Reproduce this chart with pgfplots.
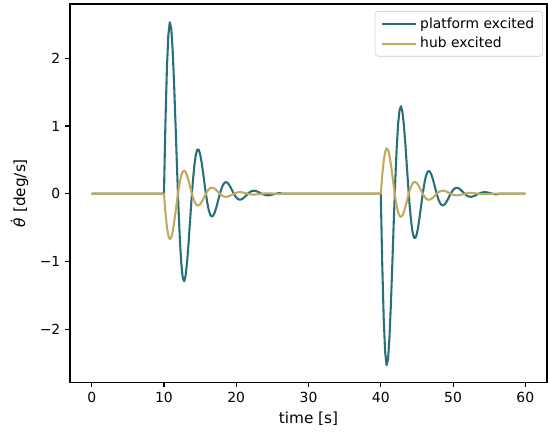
\documentclass[border=0pt]{standalone}
\usepackage{fontspec}
\setmainfont{DejaVu Sans}
\usepackage{pgfplots}
\pgfplotsset{compat=1.18}
\usepackage{pgfplotstable}
\definecolor{plat}{RGB}{40,112,121}
\definecolor{hubc}{RGB}{193,170,96}
\pgfplotstableread{
t p h
0 0 0
10.0 0 0
10.2 1.0329 -0.2739
10.4 1.8262 -0.4842
10.6 2.3299 -0.6177
10.8 2.5303 -0.6709
11.0 2.4464 -0.6486
11.2 2.1237 -0.5631
11.4 1.6261 -0.4311
11.6 1.0273 -0.2724
11.8 0.4013 -0.1064
12.0 -0.1842 0.0488
12.2 -0.6749 0.1789
12.4 -1.0329 0.2738
12.6 -1.2389 0.3285
12.8 -1.2917 0.3425
13.0 -1.2059 0.3197
13.2 -1.0080 0.2673
13.4 -0.7330 0.1944
13.6 -0.4189 0.1111
13.8 -0.1029 0.0273
14.0 0.1826 -0.0484
14.2 0.4123 -0.1093
14.4 0.5702 -0.1512
14.6 0.6493 -0.1721
14.8 0.6518 -0.1728
15.0 0.5875 -0.1558
15.2 0.4716 -0.1250
15.4 0.3226 -0.0855
15.6 0.1600 -0.0424
15.8 0.0023 -0.0006
16.0 -0.1353 0.0359
16.2 -0.2411 0.0639
16.4 -0.3087 0.0818
16.6 -0.3359 0.0891
16.8 -0.3253 0.0863
17.0 -0.2829 0.0750
17.2 -0.2171 0.0576
17.4 -0.1377 0.0365
17.6 -0.0546 0.0145
17.8 0.0233 -0.0062
18.0 0.0887 -0.0235
18.2 0.1366 -0.0362
18.4 0.1643 -0.0436
18.6 0.1716 -0.0455
18.8 0.1605 -0.0426
19.0 0.1344 -0.0356
19.2 0.0980 -0.0260
19.4 0.0563 -0.0149
19.6 0.0143 -0.0038
19.8 -0.0238 0.0063
20.0 -0.0544 0.0144
20.2 -0.0756 0.0200
20.4 -0.0863 0.0229
20.6 -0.0868 0.0230
20.8 -0.0783 0.0208
21.0 -0.0630 0.0167
21.2 -0.0432 0.0115
21.4 -0.0216 0.0057
21.6 -0.0006 0.0002
21.8 0.0177 -0.0047
22.0 0.0319 -0.0084
22.2 0.0409 -0.0108
22.4 0.0446 -0.0118
22.6 0.0432 -0.0115
22.8 0.0376 -0.0100
23.0 0.0289 -0.0077
23.2 0.0184 -0.0049
23.4 0.0074 -0.0020
23.6 -0.0030 0.0008
23.8 -0.0117 0.0031
24.0 -0.0180 0.0048
24.2 -0.0217 0.0058
24.4 -0.0227 0.0060
24.6 -0.0213 0.0056
24.8 -0.0178 0.0047
25.0 -0.0130 0.0035
25.2 -0.0076 0.0020
25.4 -0.0020 0.0005
25.6 0.0030 -0.0008
25.8 0.0071 -0.0019
26.0 0.0099 -0.0026
26.4 0 0
40.0 0 0
40.2 -1.0329 0.2739
40.4 -1.8262 0.4842
40.6 -2.3299 0.6177
40.8 -2.5303 0.6709
41.0 -2.4464 0.6486
41.2 -2.1237 0.5631
41.4 -1.6261 0.4311
41.6 -1.0273 0.2724
41.8 -0.4013 0.1064
42.0 0.1842 -0.0488
42.2 0.6749 -0.1789
42.4 1.0329 -0.2738
42.6 1.2389 -0.3285
42.8 1.2917 -0.3425
43.0 1.2059 -0.3197
43.2 1.0080 -0.2673
43.4 0.7330 -0.1944
43.6 0.4189 -0.1111
43.8 0.1029 -0.0273
44.0 -0.1826 0.0484
44.2 -0.4123 0.1093
44.4 -0.5702 0.1512
44.6 -0.6493 0.1721
44.8 -0.6518 0.1728
45.0 -0.5875 0.1558
45.2 -0.4716 0.1250
45.4 -0.3226 0.0855
45.6 -0.1600 0.0424
45.8 -0.0023 0.0006
46.0 0.1353 -0.0359
46.2 0.2411 -0.0639
46.4 0.3087 -0.0818
46.6 0.3359 -0.0891
46.8 0.3253 -0.0863
47.0 0.2829 -0.0750
47.2 0.2171 -0.0576
47.4 0.1377 -0.0365
47.6 0.0546 -0.0145
47.8 -0.0233 0.0062
48.0 -0.0887 0.0235
48.2 -0.1366 0.0362
48.4 -0.1643 0.0436
48.6 -0.1716 0.0455
48.8 -0.1605 0.0426
49.0 -0.1344 0.0356
49.2 -0.0980 0.0260
49.4 -0.0563 0.0149
49.6 -0.0143 0.0038
49.8 0.0238 -0.0063
50.0 0.0544 -0.0144
50.2 0.0756 -0.0200
50.4 0.0863 -0.0229
50.6 0.0868 -0.0230
50.8 0.0783 -0.0208
51.0 0.0630 -0.0167
51.2 0.0432 -0.0115
51.4 0.0216 -0.0057
51.6 0.0006 -0.0002
51.8 -0.0177 0.0047
52.0 -0.0319 0.0084
52.2 -0.0409 0.0108
52.4 -0.0446 0.0118
52.6 -0.0432 0.0115
52.8 -0.0376 0.0100
53.0 -0.0289 0.0077
53.2 -0.0184 0.0049
53.4 -0.0074 0.0020
53.6 0.0030 -0.0008
53.8 0.0117 -0.0031
54.0 0.0180 -0.0048
54.2 0.0217 -0.0058
54.4 0.0227 -0.0060
54.6 0.0213 -0.0056
54.8 0.0178 -0.0047
55.0 0.0130 -0.0035
55.2 0.0076 -0.0020
55.4 0.0020 -0.0005
55.6 -0.0030 0.0008
55.8 -0.0071 0.0019
56.0 -0.0099 0.0026
56.4 0 0
60.0 0 0
}\data
\begin{document}
\begin{tikzpicture}
\useasboundingbox (-50.4pt,-39.6pt) rectangle (344.1pt,275.1pt);
\begin{axis}[
  at={(0,0)}, anchor=south west,
  width=343.4pt, height=272.2pt, scale only axis,
  xmin=-3, xmax=63, ymin=-2.78, ymax=2.80,
  xtick={0,10,20,30,40,50,60},
  ytick={-2,-1,0,1,2},
  yticklabels={−2,−1,0,1,2},
  /pgf/number format/assume math mode=true,
  tick align=outside, tick pos=left,
  major tick length=3.5pt,
  every tick/.style={black, line width=0.8pt},
  axis line style={black, line width=0.8pt},
  ticklabel style={font=\fontsize{10}{12}\selectfont},
  xlabel={time [s]},
  ylabel={{\itshape θ̇} [deg/s]},
  every axis x label/.append style={font=\fontsize{11}{13}\selectfont},
  every axis y label/.style={at={(axis description cs:-0.106,0.5)}, rotate=90, anchor=center, font=\fontsize{11}{13}\selectfont},
  legend cell align=left,
  legend style={at={(1,1)}, anchor=north east, xshift=-3pt, yshift=-5pt,
    draw=black!20, rounded corners=2pt, font=\fontsize{10}{12}\selectfont,
    inner xsep=4pt, inner ysep=2.5pt, row sep=1.2pt},
  legend image code/.code={\draw[#1] (0pt,0pt) -- (21pt,0pt); \path (21pt,0pt) -- (25pt,0pt);},
]
\addplot[plat, line width=1.5pt, line join=round] table[x=t, y=p] {\data};
\addlegendentry{platform excited}
\addplot[hubc, line width=1.5pt, line join=round] table[x=t, y=h] {\data};
\addlegendentry{hub excited}
\end{axis}
\end{tikzpicture}
\end{document}
